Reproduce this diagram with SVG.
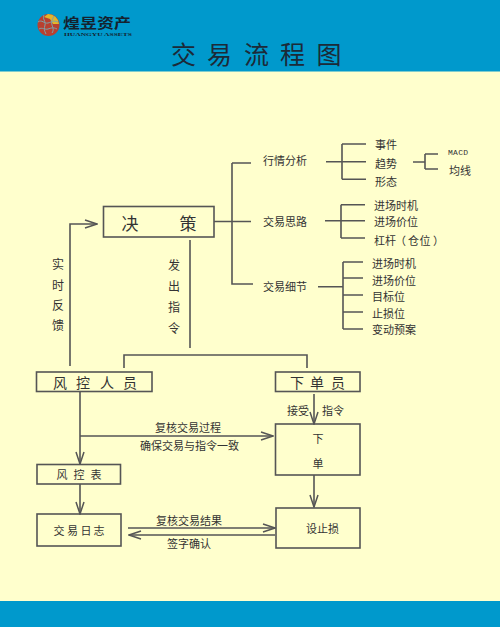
<svg xmlns="http://www.w3.org/2000/svg" width="500" height="627" viewBox="0 0 500 627">
<style>
text{font-family:"Noto Sans CJK SC","Liberation Sans",sans-serif;fill:#333;dominant-baseline:central}
.s{font-size:11px}
.m{font-size:12px}
.l{font-size:14px}
.t{font-size:25px;fill:#1c2a38}
.c{text-anchor:middle}
.box{fill:none;stroke:#555;stroke-width:1.6}
.ln{fill:none;stroke:#555;stroke-width:1.6}
.ar{fill:none;stroke:#555;stroke-width:1.6;marker-end:url(#open)}
</style>
<defs>
<marker id="open" viewBox="0 0 14 10" refX="13" refY="5" markerWidth="14" markerHeight="10" markerUnits="userSpaceOnUse" orient="auto"><path d="M1 1L13 5L1 9" fill="none" stroke="#555" stroke-width="1.5"/></marker>
</defs>
<rect width="500" height="627" fill="#ffffcd"/>
<rect id="banner-top" width="500" height="71.5" fill="#0099cc"/>
<rect id="banner-bottom" y="601" width="500" height="26" fill="#0099cc"/>
<g id="logo">
<circle cx="48.500" cy="25" r="11" fill="#b8402f"/>
<path d="M48 14a11 11 0 0 1 11 10l-6 0-3-5-6-2z" fill="#e3b52a"/>
<path d="M38 22c4-3 6 2 10 1s5-3 10-1M39 29c3-2 6 1 9 0s5-2 9 0M44 15c-2 4 2 6 1 10s-1 5 1 9M54 16c-2 4-3 6-2 9s2 5 0 8" fill="none" stroke="#7fa3a8" stroke-width="1"/>
<text x="63" y="22" font-size="13.500" font-weight="700" textLength="68" lengthAdjust="spacingAndGlyphs" style="fill:#15222e">煌昱资产</text>
<text x="64" y="34" font-size="4.500" font-weight="700" textLength="68" lengthAdjust="spacingAndGlyphs" style="font-family:'Liberation Serif',serif;fill:#15222e">HUANGYU ASSETS</text>
</g>
<text id="title" class="t c" x="183.500 219.500 256.500 292.500 329" y="52.500">交易流程图</text>
<g id="connectors">
<path class="ln" d="M214 221.500H251M232 163H251M232 163V284H253"/>
<path class="ln" d="M326 161.700H366M342 144V179.300M342 144H366M342 179.300H366"/>
<path class="ln" d="M413 162H425M425 154V169M425 154H438M425 169H438"/>
<path class="ln" d="M325 220.700H365M341 204.700V238M341 204.700H365M341 238H365"/>
<path class="ln" d="M318 286.700H343M343 262V329M343 262H363M343 278H363M343 295H363M343 312H363M343 329H363"/>
<path class="ar" d="M70 366V224H97"/>
<path class="ln" d="M190 240V348"/>
<path class="ln" d="M124 368V355H307V368"/>
<path class="ar" d="M80 391V464"/>
<path class="ar" d="M80 436H273"/>
<path class="ar" d="M80 484V514"/>
<path class="ar" d="M314 394V424"/>
<path class="ar" d="M314 475V507"/>
<path class="ar" d="M128 528H275"/>
<path class="ar" d="M275 535H129"/>
</g>
<g id="decision"><rect class="box" x="103.500" y="206.500" width="110.500" height="30.500"/><text class="l c" x="130 188" y="222" style="font-size:17px">决策</text></g>
<g id="risk-staff"><rect class="box" x="36.500" y="372" width="115.500" height="19.500"/><text class="l c" x="60 83 107 130" y="381.500">风控人员</text></g>
<g id="order-staff"><rect class="box" x="275.500" y="372" width="84.500" height="19.500"/><text class="l c" x="297 317 338" y="381.500">下单员</text></g>
<g id="risk-table"><rect class="box" x="37" y="464.500" width="83.500" height="19.500"/><text class="s c" x="62 79 96" y="474">风控表</text></g>
<g id="trade-log"><rect class="box" x="37" y="514" width="84" height="32"/><text class="s c" x="59 72.500 86 99" y="530">交易日志</text></g>
<g id="order"><rect class="box" x="275.500" y="424" width="84.500" height="51"/><text class="s c" x="318" y="438">下</text><text class="s c" x="318" y="463">单</text></g>
<g id="stop-loss"><rect class="box" x="276" y="508" width="84" height="40"/><text class="s c" x="322.500" y="528">设止损</text></g>
<g id="labels">
<text class="s" x="263" y="160">行情分析</text>
<text class="s" x="263" y="221">交易思路</text>
<text class="s" x="263" y="285.500">交易细节</text>
<text class="s" x="375" y="143.500">事件</text>
<text class="s" x="375" y="162.500">趋势</text>
<text class="s" x="375" y="180.500">形态</text>
<text x="448" y="152.500" font-size="8" textLength="20" style="font-family:'Liberation Mono',monospace">MACD</text>
<text class="s" x="449" y="170">均线</text>
<text class="s" x="374" y="204.500">进场时机</text>
<text class="s" x="374" y="220.500">进场价位</text>
<text class="s" x="374 385 395 408 419.500 433" y="240">杠杆（仓位）</text>
<text class="s" x="372" y="263">进场时机</text>
<text class="s" x="372" y="279.500">进场价位</text>
<text class="s" x="372" y="295.500">目标位</text>
<text class="s" x="372" y="312.500">止损位</text>
<text class="s" x="372" y="328.500">变动预案</text>
<text class="m c" x="58" y="263">实</text>
<text class="m c" x="58" y="284">时</text>
<text class="m c" x="58" y="304">反</text>
<text class="m c" x="58" y="324">馈</text>
<text class="m c" x="174" y="264">发</text>
<text class="m c" x="174" y="285">出</text>
<text class="m c" x="174" y="306">指</text>
<text class="m c" x="174" y="327">令</text>
<text class="s" x="155" y="426.500">复核交易过程</text>
<text class="s" x="140" y="444.500">确保交易与指令一致</text>
<text class="s" x="287" y="409.500">接受</text>
<text class="s" x="322" y="409.500">指令</text>
<text class="s" x="156" y="519.500">复核交易结果</text>
<text class="s" x="167" y="542.500">签字确认</text>
</g>
</svg>
